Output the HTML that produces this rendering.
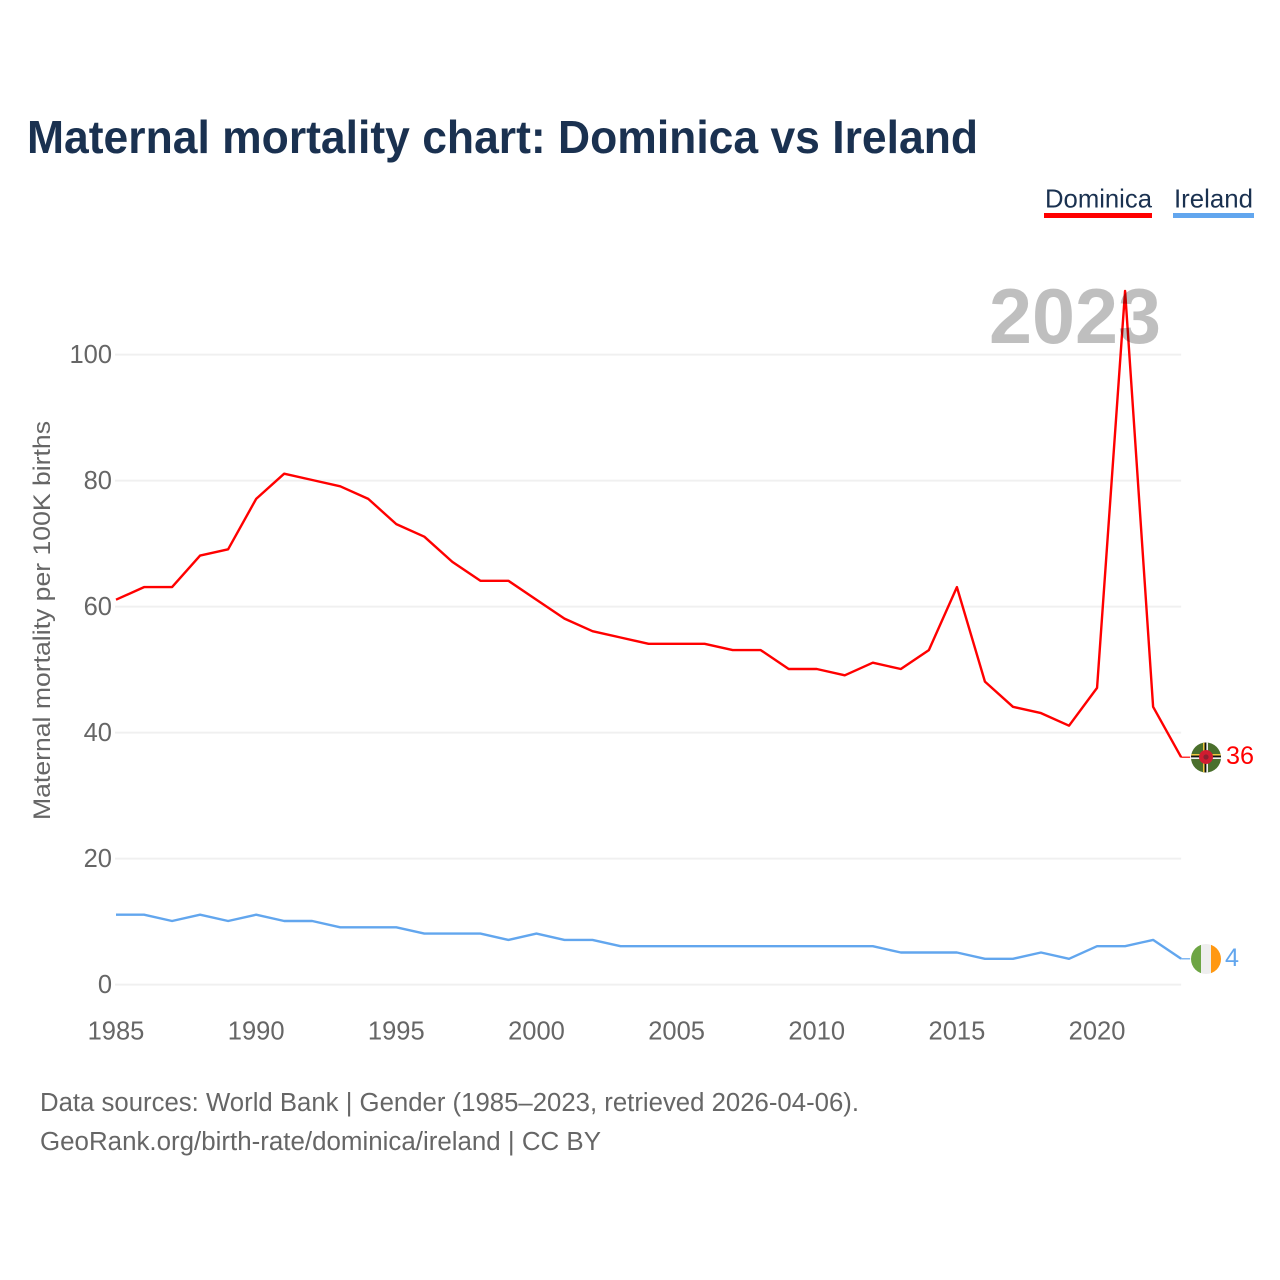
<!DOCTYPE html>
<html lang="en">
<head>
<meta charset="utf-8">
<title>Maternal mortality chart: Dominica vs Ireland</title>
<style>
html,body{margin:0;padding:0;background:#fff;}
svg{display:block;}
text{font-family:"Liberation Sans",sans-serif;}
</style>
</head>
<body>
<svg id="chart" xmlns="http://www.w3.org/2000/svg" width="1280" height="1280" viewBox="0 0 1280 1280">
  <defs>
    <clipPath id="flag-clip-d"><circle cx="1206" cy="757.5" r="15"/></clipPath>
    <clipPath id="flag-clip-i"><circle cx="1206" cy="959" r="15"/></clipPath>
  </defs>
  <rect x="0" y="0" width="1280" height="1280" fill="#fff"/>
  <text x="27" y="153" font-size="46" font-weight="700" fill="#1a3150" textLength="951" lengthAdjust="spacingAndGlyphs">Maternal mortality chart: Dominica vs Ireland</text>

  <g>
    <g>
      <text x="1045" y="207.5" font-size="26" fill="#1a3150" textLength="107" lengthAdjust="spacingAndGlyphs">Dominica</text>
      <rect x="1044" y="213" width="108" height="5" fill="#ff0000"/>
    </g>
    <g>
      <text x="1174" y="207.5" font-size="26" fill="#1a3150" textLength="79" lengthAdjust="spacingAndGlyphs">Ireland</text>
      <rect x="1173" y="213" width="81" height="5" fill="#62a6ee"/>
    </g>
  </g>

  <g id="grid"></g>
  <g id="yticks"></g>
  <g id="xticks"></g>
  <text transform="translate(50,820) rotate(-90)" x="0" y="0" font-size="24" fill="#666" textLength="399" lengthAdjust="spacingAndGlyphs">Maternal mortality per 100K births</text>

  <g id="series"></g>

  <text x="989" y="343" font-size="78" font-weight="700" fill="#000" fill-opacity="0.25" textLength="172" lengthAdjust="spacingAndGlyphs">2023</text>

  <g clip-path="url(#flag-clip-d)">
    <rect x="1191" y="742" width="30" height="31" fill="#4a6f2c"/>
    <rect x="1191" y="754" width="30" height="1.6" fill="#f0c840"/>
    <rect x="1191" y="755.6" width="30" height="1.8" fill="#111"/>
    <rect x="1191" y="757.4" width="30" height="1.6" fill="#f2f2f2"/>
    <rect x="1203" y="742" width="1.6" height="31" fill="#f0c840"/>
    <rect x="1204.6" y="742" width="1.8" height="31" fill="#111"/>
    <rect x="1206.4" y="742" width="1.6" height="31" fill="#f2f2f2"/>
    <circle cx="1206" cy="757" r="7" fill="#d01c30"/>
    <circle cx="1206" cy="757" r="2.6" fill="#8a2030"/>
  </g>
  <g clip-path="url(#flag-clip-i)">
    <rect x="1191" y="944" width="10" height="30" fill="#6da544"/>
    <rect x="1201" y="944" width="10" height="30" fill="#eeeeee"/>
    <rect x="1211" y="944" width="10" height="30" fill="#ff9811"/>
  </g>
  <text x="1226" y="764" font-size="25" fill="#ff0000" textLength="28" lengthAdjust="spacingAndGlyphs">36</text>
  <text x="1225" y="966" font-size="25" fill="#62a6ee" textLength="14" lengthAdjust="spacingAndGlyphs">4</text>

  <text x="40" y="1111" font-size="25.5" fill="#666" textLength="819" lengthAdjust="spacingAndGlyphs">Data sources: World Bank | Gender (1985–2023, retrieved 2026-04-06).</text>
  <text x="40" y="1150" font-size="25.5" fill="#666" textLength="561" lengthAdjust="spacingAndGlyphs">GeoRank.org/birth-rate/dominica/ireland | CC BY</text>
</svg>
<script>
const years = [1985,1986,1987,1988,1989,1990,1991,1992,1993,1994,1995,1996,1997,1998,1999,2000,2001,2002,2003,2004,2005,2006,2007,2008,2009,2010,2011,2012,2013,2014,2015,2016,2017,2018,2019,2020,2021,2022,2023];
const dominicaValues = [61,63,63,68,69,77,81,80,79,77,73,71,67,64,64,61,58,56,55,54,54,54,53,53,50,50,49,51,50,53,63,48,44,43,41,47,110,44,36];
const irelandValues = [11,11,10,11,10,11,10,10,9,9,9,8,8,8,7,8,7,7,6,6,6,6,6,6,6,6,6,6,5,5,5,4,4,5,4,6,6,7,4];
const yTickValues = [0,20,40,60,80,100];
const xTickValues = [1985,1990,1995,2000,2005,2010,2015,2020];

const NS = 'http://www.w3.org/2000/svg';
function xScale(year){ return 116 + (year - 1985) * 28.03; }
function yScale(v){ return 984.6 - v * 6.3; }

const gridGroup = document.getElementById('grid');
const yTickGroup = document.getElementById('yticks');
const xTickGroup = document.getElementById('xticks');
const seriesGroup = document.getElementById('series');

yTickValues.forEach(function(v){
  const line = document.createElementNS(NS, 'line');
  
  
  line.setAttribute('x1', 115);
  line.setAttribute('x2', xScale(2023));
  line.setAttribute('y1', yScale(v));
  line.setAttribute('y2', yScale(v));
  line.setAttribute('stroke', '#f0f0f0');
  line.setAttribute('stroke-width', 2);
  gridGroup.appendChild(line);

  const label = document.createElementNS(NS, 'text');
  
  
  label.setAttribute('x', 112);
  label.setAttribute('y', yScale(v) + 8.4);
  label.setAttribute('text-anchor', 'end');
  label.setAttribute('font-size', '25.5');
  label.setAttribute('fill', '#666');
  label.textContent = String(v);
  yTickGroup.appendChild(label);
});

xTickValues.forEach(function(y){
  const label = document.createElementNS(NS, 'text');
  
  
  label.setAttribute('x', xScale(y));
  label.setAttribute('y', 1039.5);
  label.setAttribute('text-anchor', 'middle');
  label.setAttribute('font-size', '25.5');
  label.setAttribute('fill', '#666');
  label.textContent = String(y);
  xTickGroup.appendChild(label);
});

function drawSeries(values, colour, name){
  const pts = values.map(function(v, i){ return xScale(years[i]).toFixed(2) + ',' + (yScale(v) - 0.6).toFixed(2); });
  const path = document.createElementNS(NS, 'polyline');
  
  
  path.setAttribute('points', pts.join(' '));
  path.setAttribute('fill', 'none');
  path.setAttribute('stroke', colour);
  path.setAttribute('stroke-width', 2.4);
  path.setAttribute('stroke-linejoin', 'round');
  seriesGroup.appendChild(path);

  const last = values[values.length - 1];
  const lastYear = years[years.length - 1];
  const connector = document.createElementNS(NS, 'line');
  
  
  connector.setAttribute('x1', xScale(lastYear));
  connector.setAttribute('x2', xScale(lastYear) + 9);
  connector.setAttribute('y1', yScale(last) - 0.6);
  connector.setAttribute('y2', yScale(last) - 0.6);
  connector.setAttribute('stroke', colour);
  connector.setAttribute('stroke-width', 1.2);
  seriesGroup.appendChild(connector);
}
drawSeries(dominicaValues, '#ff0000', 'dominica');
drawSeries(irelandValues, '#62a6ee', 'ireland');
</script>
</body>
</html>
